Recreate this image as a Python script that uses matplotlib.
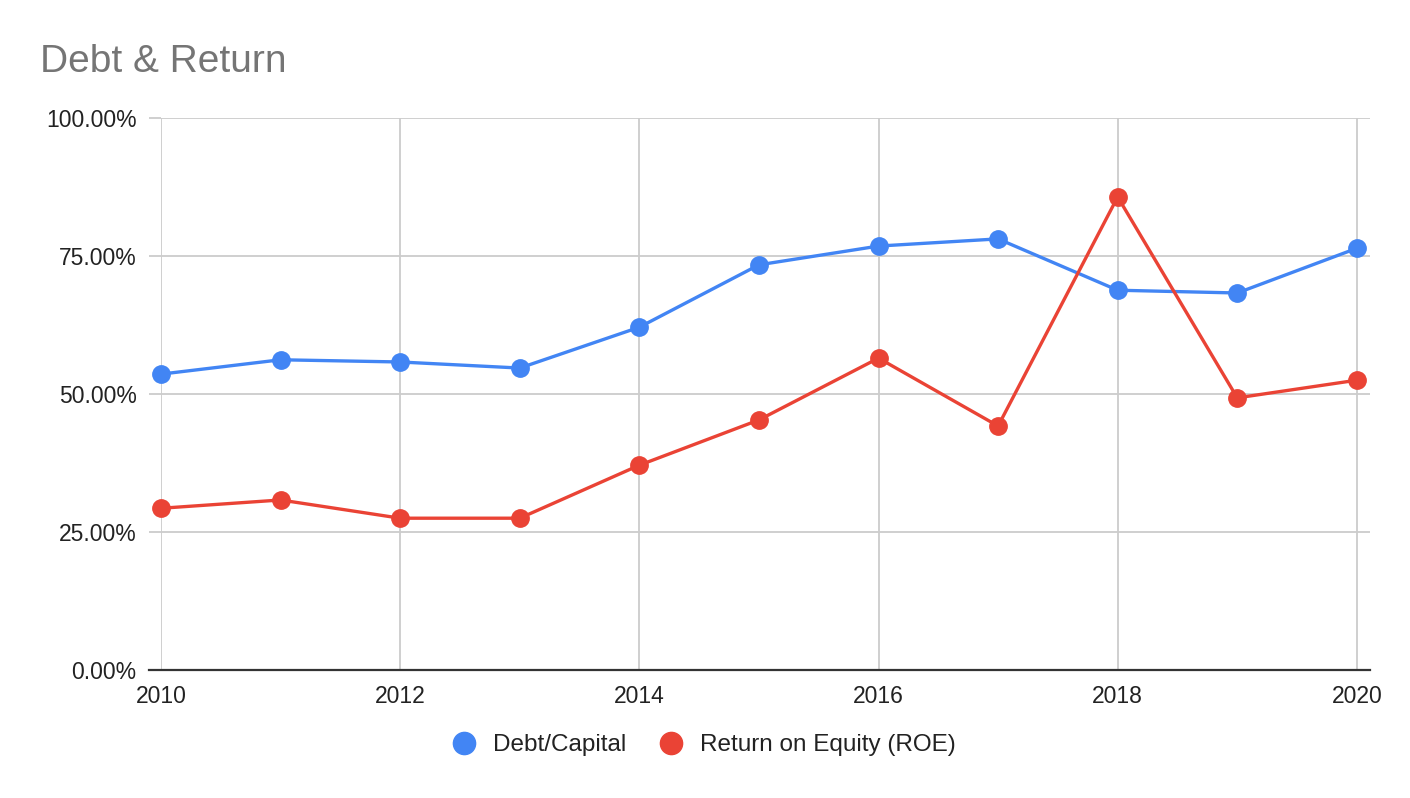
import matplotlib
matplotlib.use("Agg")
import matplotlib.pyplot as plt
from matplotlib.ticker import FuncFormatter, MultipleLocator

years = [2010, 2011, 2012, 2013, 2014, 2015, 2016, 2017, 2018, 2019, 2020]
debt_capital = [53.6, 56.2, 55.8, 54.7, 62.1, 73.4, 76.8, 78.1, 68.8, 68.3, 76.4]
roe = [29.3, 30.8, 27.5, 27.5, 37.1, 45.3, 56.5, 44.2, 85.7, 49.3, 52.5]

plt.rcParams['font.family'] = ['Liberation Sans', 'DejaVu Sans']

fig = plt.figure(figsize=(14.1, 7.98), dpi=100)
ax_w_px = 1370 - 161
ax = fig.add_axes([161/1410, 1 - 670/798, ax_w_px/1410, (670-118)/798])

blue = '#4285F4'
red = '#EA4335'
ax.plot(years, debt_capital, color=blue, lw=2.4, marker='o', ms=12.5, label='Debt/Capital', zorder=3, clip_on=False)
ax.plot(years, roe, color=red, lw=2.4, marker='o', ms=12.5, label='Return on Equity (ROE)', zorder=3, clip_on=False)

ax.set_xlim(2010, 2020.11)
ax.set_ylim(0, 100)
ax.yaxis.set_major_locator(MultipleLocator(25))
ax.xaxis.set_major_locator(MultipleLocator(2))
ax.yaxis.set_major_formatter(FuncFormatter(lambda v, p: f"{v:.2f}%"))
ax.xaxis.set_major_formatter(FuncFormatter(lambda v, p: f"{int(v)}"))

grid_c = '#cccccc'
ax.grid(True, color=grid_c, lw=1.3)
ax.set_axisbelow(True)
for s in ['top', 'right', 'left', 'bottom']:
    ax.spines[s].set_visible(False)
# bottom baseline extending slightly left of the plot area
ax.axhline(0, xmin=-12/ax_w_px, xmax=1, color='#333333', lw=1.6, clip_on=False, zorder=2)

ax.tick_params(axis='y', length=12*0.72, width=1.3, color=grid_c, labelsize=16.5, labelcolor='#222222', pad=9)
ax.tick_params(axis='x', length=0, labelsize=16.5, labelcolor='#222222', pad=11)

fig.text(40/1410, 1 - 72/798, 'Debt & Return', fontsize=28, color='#757575', va='baseline', ha='left')

leg = fig.legend(loc='center', bbox_to_anchor=(0.5, 1 - 745/798), ncol=2, frameon=False,
                 fontsize=17.5, handlelength=0.8, handletextpad=0.8, columnspacing=1.45)
for h in leg.legend_handles:
    h.set_linestyle('None')
    h.set_markersize(16)
for t in leg.get_texts():
    t.set_color('#222222')

fig.savefig('out.png', dpi=100)
